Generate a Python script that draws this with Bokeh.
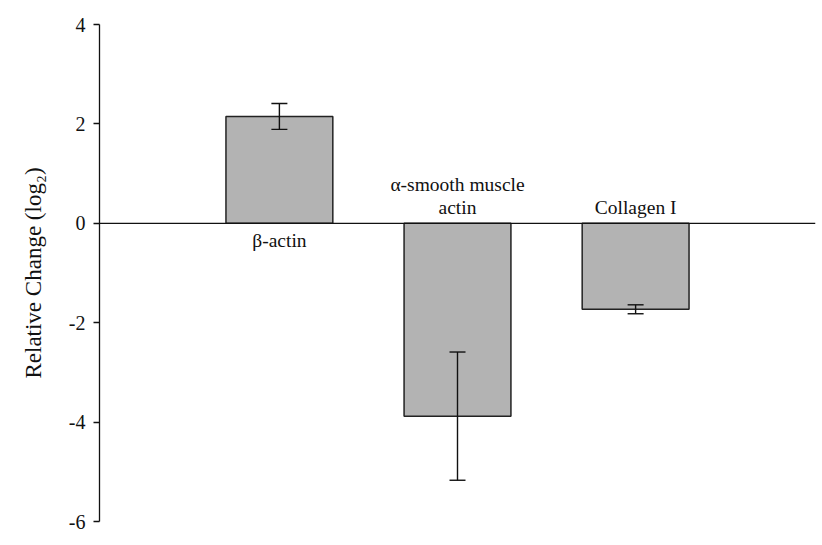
from bokeh.plotting import figure
from bokeh.models import ColumnDataSource, Whisker, Span, FixedTicker, Range1d, TeeHead
from bokeh.core.properties import value
from bokeh.embed import file_html
from bokeh.resources import INLINE

categories = ["\u03b2-actin", "\u03b1-smooth muscle\nactin", "Collagen I"]
positions = [1, 2, 3]
values = [2.15, -3.88, -1.73]
errors = [0.26, 1.29, 0.09]
y_ticks = [-6, -4, -2, 0, 2, 4]
y_tick_labels = ["-6", "-4", "-2", "0", "2", "4"]

upper = [v + e for v, e in zip(values, errors)]
lower = [v - e for v, e in zip(values, errors)]
label_offset = [7 if v > 0 else -5 for v in values]
label_baseline = ["top" if v > 0 else "bottom" for v in values]

src = ColumnDataSource(dict(x=positions, top=values, upper=upper, lower=lower,
                            label=categories, yoff=label_offset, base=label_baseline))

p = figure(width=818, height=533, output_backend="svg", toolbar_location=None,
           x_range=Range1d(-0.01, 4.01), y_range=Range1d(-6, 4),
           min_border_top=24, min_border_bottom=12, min_border_right=3, min_border_left=99)
p.outline_line_color = None
p.xgrid.visible = False
p.ygrid.visible = False
p.xaxis.visible = False

p.vbar(x="x", top="top", bottom=0, width=0.6, source=src,
       fill_color="#b3b3b3", line_color="#222222", line_width=1.5)

w = Whisker(base="x", upper="upper", lower="lower", source=src, level="overlay",
            line_color="#111111", line_width=1.4,
            upper_head=TeeHead(size=16, line_color="#111111", line_width=1.4),
            lower_head=TeeHead(size=16, line_color="#111111", line_width=1.4))
p.add_layout(w)

p.add_layout(Span(location=0, dimension="width", line_color="#111111", line_width=1.3))

p.text(x="x", y=0, text="label", source=src, y_offset="yoff",
       text_align="center", text_baseline="base",
       text_font=value("Liberation Serif"), text_font_size="19.5px",
       text_color="#111111", text_line_height=1.1)

ax = p.yaxis[0]
ax.ticker = FixedTicker(ticks=y_ticks)
ax.major_label_overrides = {t: l for t, l in zip(y_ticks, y_tick_labels)}
ax.minor_tick_line_color = None
ax.major_tick_in = 0
ax.major_tick_out = 6
ax.major_tick_line_width = 1.3
ax.axis_line_width = 1.3
ax.axis_line_color = "#111111"
ax.major_tick_line_color = "#111111"
ax.major_label_text_font = "Liberation Serif"
ax.major_label_text_font_size = "20px"
ax.major_label_text_color = "#111111"
ax.major_label_standoff = 8
ax.axis_label = "Relative Change (log\u2082)"
ax.axis_label_text_font = "Liberation Serif"
ax.axis_label_text_font_size = "23px"
ax.axis_label_text_font_style = "normal"
ax.axis_label_text_color = "#111111"
ax.axis_label_standoff = 20

open("out.html", "w").write(file_html(p, INLINE))
